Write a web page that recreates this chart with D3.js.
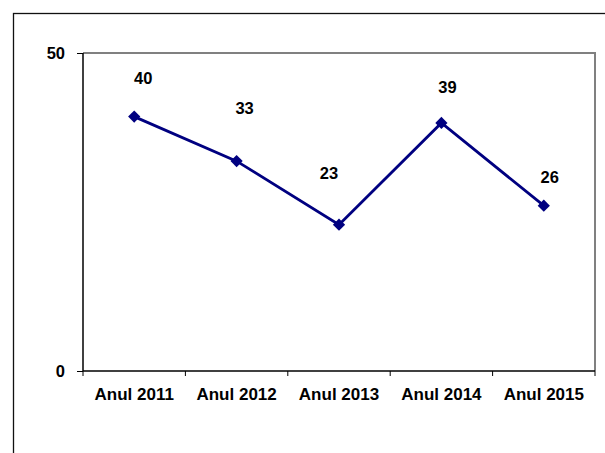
<!DOCTYPE html>
<html>
<head>
<meta charset="utf-8">
<script src="https://cdn.jsdelivr.net/npm/d3@7"></script>
<style>
  body { margin: 0; background: #fff; }
  svg { display: block; }
  text { font-family: "Liberation Sans", Arial, sans-serif; font-weight: bold; fill: #000; }
</style>
</head>
<body>
<div id="chart"></div>
<script>
// data
const years = ['Anul 2011', 'Anul 2012', 'Anul 2013', 'Anul 2014', 'Anul 2015'];
const values = [40, 33, 23, 39, 26];
const yTicks = [0, 50];

// data label nudges (labels were hand-placed in the original)
const labelDx = [9, 8, -10, 6, 6];
const labelDy = [-33, -47, -46, -30, -23];

const width = 605, height = 453;
const plot = { left: 83, top: 53, right: 595, bottom: 371 };

const svg = d3.select('#chart').append('svg')
  .attr('width', width)
  .attr('height', height);

// outer chart frame (runs off the right and bottom edge)
svg.append('rect')
  .attr('x', 13.5).attr('y', 13.5)
  .attr('width', 800).attr('height', 800)
  .attr('fill', 'none')
  .attr('stroke', '#111')
  .attr('stroke-width', 1.3);

const x = d3.scaleBand()
  .domain(years)
  .range([plot.left, plot.right]);

const y = d3.scaleLinear()
  .domain([0, 50])
  .range([plot.bottom, plot.top]);

// plot area border: gray top and right
svg.append('path')
  .attr('d', `M${plot.left},${plot.top}H${plot.right}V${plot.bottom}`)
  .attr('fill', 'none')
  .attr('stroke', '#808080')
  .attr('stroke-width', 2);

// y axis
const yAxis = svg.append('g')
  .attr('transform', `translate(${plot.left},0)`)
  .call(d3.axisLeft(y).tickValues(yTicks).tickSize(6).tickPadding(12));
yAxis.select('.domain').attr('d', `M0,${plot.top}V${plot.bottom}`).attr('stroke', '#000').attr('stroke-width', 1.5);
yAxis.selectAll('.tick line').attr('stroke', '#000');
yAxis.selectAll('.tick text')
  .style('font-size', '16.5px')
  .style('font-family', '"Liberation Sans", Arial, sans-serif')
  .style('font-weight', 'bold')
  .attr('fill', '#000');

// x axis: ticks on category boundaries
const xAxis = svg.append('g')
  .attr('transform', `translate(0,${plot.bottom})`);
xAxis.append('path')
  .attr('d', `M${plot.left},0H${plot.right}`)
  .attr('stroke', '#000')
  .attr('stroke-width', 1.5);
const bounds = years.map(d => x(d)).concat([x(years[years.length - 1]) + x.bandwidth()]);
xAxis.selectAll('line.tick')
  .data(bounds)
  .join('line')
  .attr('class', 'tick')
  .attr('x1', d => d).attr('x2', d => d)
  .attr('y1', 0).attr('y2', 5)
  .attr('stroke', '#000');
xAxis.selectAll('text')
  .data(years)
  .join('text')
  .attr('x', d => x(d) + x.bandwidth() / 2)
  .attr('y', 29)
  .attr('text-anchor', 'middle')
  .style('font-size', '17px')
  .text(d => d);

// line
const cx = (d, i) => x(years[i]) + x.bandwidth() / 2;
const line = d3.line()
  .x(cx)
  .y(d => y(d));

svg.append('path')
  .datum(values)
  .attr('d', line)
  .attr('fill', 'none')
  .attr('stroke', '#000080')
  .attr('stroke-width', 2.8);

// diamond markers
const diamond = d3.symbol().type(d3.symbolDiamond2).size(95);
svg.selectAll('path.marker')
  .data(values)
  .join('path')
  .attr('class', 'marker')
  .attr('d', diamond)
  .attr('transform', (d, i) => `translate(${cx(d, i)},${y(d)})`)
  .attr('fill', '#000080');

// data labels
svg.selectAll('text.label')
  .data(values)
  .join('text')
  .attr('class', 'label')
  .attr('x', (d, i) => cx(d, i) + labelDx[i])
  .attr('y', (d, i) => y(d) + labelDy[i])
  .attr('text-anchor', 'middle')
  .style('font-size', '16.5px')
  .text(d => d);
</script>
</body>
</html>
